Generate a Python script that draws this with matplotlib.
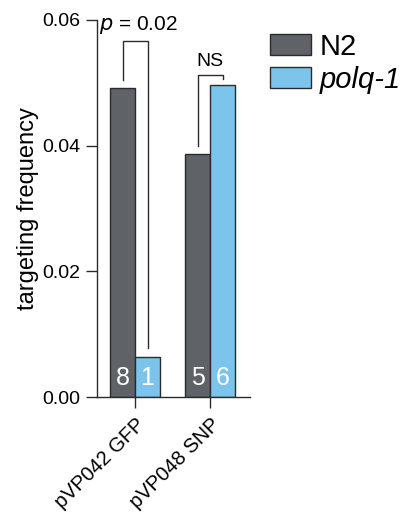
import numpy as np
import matplotlib.pyplot as plt

plt.rcParams['font.family'] = ['Liberation Sans', 'DejaVu Sans']

constructs = ['pVP042 GFP', 'pVP048 SNP']
n2_freq = [0.0492, 0.0387]
polq_freq = [0.0064, 0.0496]
n2_counts = ['8', '5']
polq_counts = ['1', '6']

dark = '#5f6266'
blue = '#7cc4ec'
edge = '#2b2b2b'

fig = plt.figure(figsize=(4.07, 5.18), dpi=100)
ax = fig.add_axes([97 / 407, 1 - 397 / 518, 153 / 407, 377 / 518])

x = np.arange(len(constructs))
w = 1 / 3
b1 = ax.bar(x - w / 2, n2_freq, w, color=dark, edgecolor=edge, linewidth=1, label='N2')
b2 = ax.bar(x + w / 2, polq_freq, w, color=blue, edgecolor=edge, linewidth=1, label='polq-1')

# counts inside bars
for i in range(len(x)):
    ax.text(x[i] - w / 2, 0.0011, n2_counts[i], color='white', fontsize=18,
            ha='center', va='bottom')
    ax.text(x[i] + w / 2, 0.0011, polq_counts[i], color='white', fontsize=18,
            ha='center', va='bottom')

# significance brackets
ax.plot([x[0] - w / 2, x[0] - w / 2, x[0] + w / 2, x[0] + w / 2],
        [0.0505, 0.0566, 0.0566, 0.0078], color=edge, lw=1, clip_on=False)
ax.text(x[0] + 0.04, 0.0574, '$\\it{p}$ = 0.02', fontsize=15, ha='center', va='bottom')
ax.plot([x[1] - w / 2, x[1] - w / 2, x[1] + w / 2, x[1] + w / 2],
        [0.0400, 0.0512, 0.0512, 0.0506], color=edge, lw=1, clip_on=False)
ax.text(x[1], 0.0520, 'NS', fontsize=14, ha='center', va='bottom')

ax.set_xlim(-0.507, 1.533)
ax.set_ylim(0, 0.06)
ax.set_yticks([0, 0.02, 0.04, 0.06])
ax.set_yticklabels(['0.00', '0.02', '0.04', '0.06'])
ax.set_xticks(x)
ax.set_xticklabels(constructs, rotation=45, ha='right', rotation_mode='anchor')
ax.tick_params(axis='y', labelsize=14, length=8, width=1, color=edge, pad=4)
ax.tick_params(axis='x', labelsize=14.5, length=8, width=1, color=edge, pad=5)
ax.set_ylabel('targeting frequency', fontsize=17, labelpad=2)

for s in ['top', 'right']:
    ax.spines[s].set_visible(False)
for s in ['left', 'bottom']:
    ax.spines[s].set_color(edge)
    ax.spines[s].set_linewidth(1)

leg = fig.legend(handles=[b1, b2], labels=['N2', 'polq-1'], loc='upper left',
                 bbox_to_anchor=(258 / 407, 1 - 21 / 518), frameon=False,
                 fontsize=21, handlelength=1.4, handleheight=0.7,
                 handletextpad=0.3, labelspacing=0.18, borderaxespad=0)
leg.get_texts()[1].set_fontstyle('italic')

fig.savefig('out.png', dpi=100)
